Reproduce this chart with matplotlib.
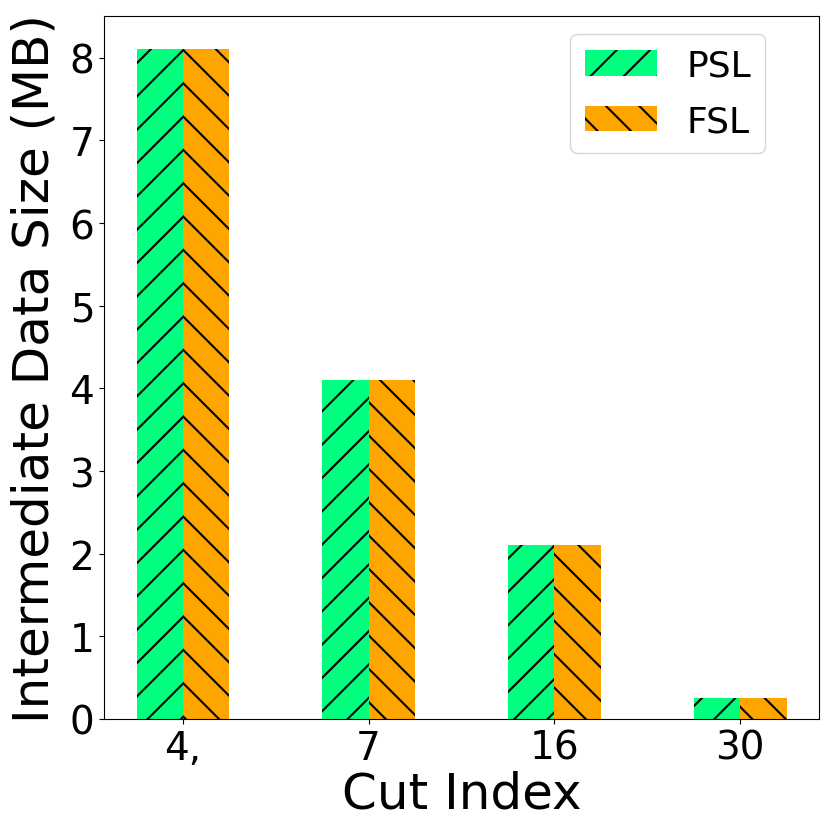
import matplotlib
matplotlib.use('Agg')
import matplotlib.pyplot as plt
import numpy as np

cut_labels = ['4,', '7', '16', '30']
psl_size = [8.1, 4.1, 2.1, 0.25]
fsl_size = [8.1, 4.1, 2.1, 0.25]

W, H = 831, 837
fig = plt.figure(figsize=(W / 100, H / 100), dpi=100)
fig.subplots_adjust(left=104 / W, right=819 / W, top=1 - 17 / H, bottom=1 - 720 / H)
ax = fig.add_subplot(111)

plt.rcParams['hatch.linewidth'] = 1.5
x = np.arange(len(cut_labels))
width = 0.25
ax.bar(x - width / 2, psl_size, width, color='#00FF7F', hatch='/', label='PSL')
ax.bar(x + width / 2, fsl_size, width, color='#FFA500', hatch='\\', label='FSL')

ax.set_xticks(x)
ax.set_xticklabels(cut_labels)
ax.tick_params(axis='both', labelsize=28)
ax.set_xlabel('Cut Index', fontsize=36, labelpad=2)
ax.set_ylabel('Intermediate Data Size (MB)', fontsize=36, labelpad=8)
ax.legend(fontsize=26, loc='upper right', bbox_to_anchor=(0.95, 1.0), labelspacing=0.6)

fig.savefig('out.png', dpi=100)
